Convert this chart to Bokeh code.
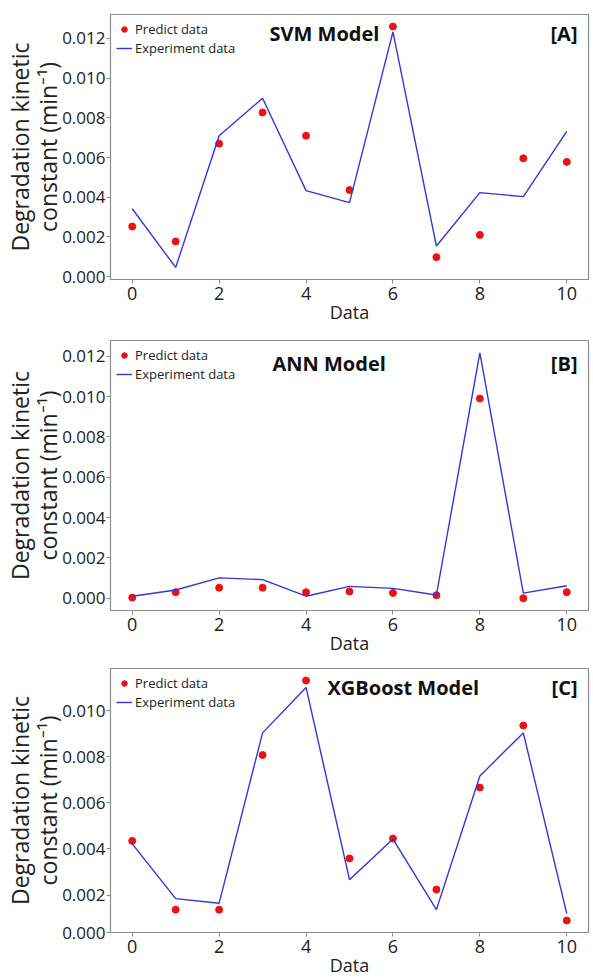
from bokeh.plotting import figure
from bokeh.layouts import column
from bokeh.models import (Label, Legend, LegendItem, FixedTicker,
                          NumeralTickFormatter, Range1d)
from bokeh.embed import file_html
from bokeh.resources import INLINE

# ---------------- data ----------------
samples = list(range(11))
x_ticks = [0, 2, 4, 6, 8, 10]

svm_experiment = [0.00342, 0.00046, 0.00710, 0.00899, 0.00433, 0.00373,
                  0.01233, 0.00154, 0.00423, 0.00403, 0.00732]
svm_predict = [0.00252, 0.00177, 0.00670, 0.00827, 0.00710, 0.00436,
               0.01260, 0.00098, 0.00210, 0.00596, 0.00578]

ann_experiment = [0.00010, 0.00041, 0.00101, 0.00092, 0.00010, 0.00059,
                  0.00049, 0.00016, 0.01217, 0.00025, 0.00062]
ann_predict = [0.00003, 0.00030, 0.00052, 0.00052, 0.00030, 0.00033,
               0.00026, 0.00015, 0.00990, 0.00000, 0.00030]

xgb_experiment = [0.00422, 0.00185, 0.00165, 0.00903, 0.01100, 0.00267,
                  0.00443, 0.00137, 0.00716, 0.00903, 0.00120]
xgb_predict = [0.00435, 0.00137, 0.00137, 0.00807, 0.01130, 0.00359,
               0.00445, 0.00224, 0.00666, 0.00935, 0.00090]

y_ticks_full = [0.000, 0.002, 0.004, 0.006, 0.008, 0.010, 0.012]
y_ticks_upper = [0.002, 0.004, 0.006, 0.008, 0.010]

model_names = ["SVM Model", "ANN Model", "XGBoost Model"]
panel_tags = ["[A]", "[B]", "[C]"]

FONT = "Open Sans"
GRAY = "#8c8c8c"
LINE_BLUE = "#3535d8"
DOT_RED = "#ee1111"
X_START, X_END = -0.5, 10.5


def data_range(a, b):
    lo = min(min(a), min(b))
    hi = max(max(a), max(b))
    m = 0.05 * (hi - lo)
    return lo - m, hi + m


def make_panel(exp, pred, name, tag, height, border_top, name_dx, name_dy,
               bottom_zero_label):
    y0, y1 = data_range(exp, pred)
    p = figure(width=593, height=height, output_backend="svg",
               toolbar_location=None, x_range=Range1d(X_START, X_END),
               y_range=Range1d(y0, y1), min_border_left=104,
               min_border_right=5, min_border_top=border_top,
               min_border_bottom=0)
    p.xgrid.visible = False
    p.ygrid.visible = False
    p.outline_line_color = GRAY
    p.outline_line_width = 1.2
    p.background_fill_color = "white"
    p.border_fill_color = "white"

    sc = p.scatter(samples, pred, size=7, color=DOT_RED, line_color=DOT_RED)
    ln = p.line(samples, exp, line_color=LINE_BLUE, line_width=1.4)

    # axes
    p.xaxis.ticker = FixedTicker(ticks=x_ticks)
    if bottom_zero_label:
        p.yaxis.ticker = FixedTicker(ticks=[y0] + y_ticks_upper)
    else:
        p.yaxis.ticker = FixedTicker(ticks=y_ticks_full)
    p.yaxis.formatter = NumeralTickFormatter(format="0.000")
    for ax in (p.xaxis[0], p.yaxis[0]):
        ax.axis_line_color = GRAY
        ax.major_tick_line_color = GRAY
        ax.major_tick_out = 4
        ax.major_tick_in = 0
        ax.minor_tick_line_color = None
        ax.major_label_text_font = FONT
        ax.major_label_text_color = "#222222"
        ax.axis_label_text_font = FONT
        ax.axis_label_text_font_style = "normal"
        ax.axis_label_text_color = "#222222"
    p.xaxis.major_label_text_font_size = "18px"
    p.yaxis.major_label_text_font_size = "17px"
    p.xaxis.major_label_standoff = 3
    p.yaxis.major_label_standoff = 1
    p.xaxis.axis_label = "Data"
    p.xaxis.axis_label_text_font_size = "18px"
    p.xaxis.axis_label_standoff = -3
    p.yaxis.axis_label = "Degradation kinetic\nconstant (min\u207b\u00b9)"
    p.yaxis.axis_label_text_font_size = "23px"
    p.yaxis.axis_label_text_line_height = 0.88
    p.yaxis.axis_label_standoff = -5

    legend = Legend(items=[LegendItem(label="Predict data", renderers=[sc]),
                           LegendItem(label="Experiment data", renderers=[ln])],
                    location="top_left", label_text_font=FONT,
                    label_text_font_size="13px", label_text_color="#222222",
                    glyph_width=16, glyph_height=14, label_standoff=3,
                    spacing=1, padding=2, margin=4, border_line_alpha=0,
                    background_fill_alpha=0, label_height=16)
    p.add_layout(legend)

    p.add_layout(Label(x=name_dx, y=y1, x_units="screen", y_units="data",
                       y_offset=-name_dy, text=name, text_font=FONT,
                       text_font_size="20px", text_font_style="bold",
                       text_color="#111111", text_baseline="middle"))
    p.add_layout(Label(x=X_END, y=y1, x_units="data", y_units="data",
                       x_offset=-11, y_offset=-name_dy, text=tag,
                       text_font=FONT, text_font_size="20px",
                       text_font_style="bold", text_color="#111111",
                       text_baseline="middle", text_align="right"))
    return p


panels = []
specs = [
    (svm_experiment, svm_predict, 326, 14, 159, 19, False),
    (ann_experiment, ann_predict, 331, 14, 162, 23, False),
    (xgb_experiment, xgb_predict, 322, 11, 217, 19, True),
]
for (exp, pred, h, bt, ndx, ndy, zl), name, tag in zip(specs, model_names,
                                                       panel_tags):
    panels.append(make_panel(exp, pred, name, tag, h, bt, ndx, ndy, zl))

layout = column(*panels, spacing=0)
open("out.html", "w").write(file_html(layout, INLINE))
